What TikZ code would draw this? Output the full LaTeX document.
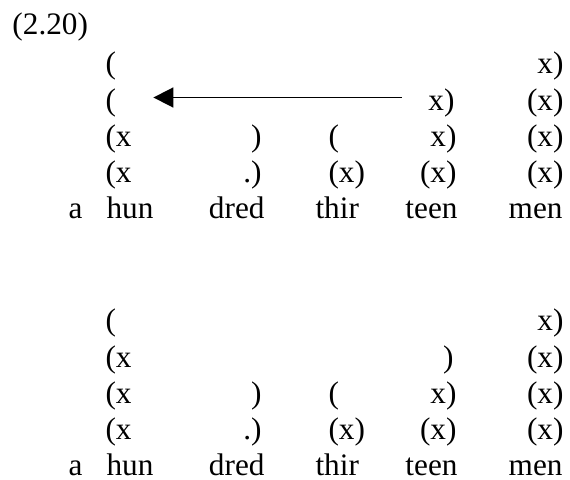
\documentclass[tikz,border=0pt]{standalone}
\usepackage{fontspec}
\setmainfont{Liberation Serif}
\usepackage{tikz}
\usetikzlibrary{arrows.meta, calc}

\begin{document}
\begin{tikzpicture}[x=0.4pt, y=-0.4pt,
    brk/.style={inner sep=0pt, font=\fontsize{12.5}{14}\selectfont},
    brkL/.style={brk, anchor=base west},
    brkR/.style={brk, anchor=base east},
    arr/.style={line width=0.7pt, -{Triangle[length=8pt, width=8pt]}}]
    \useasboundingbox (0,0) rectangle (570,479);
    \node[brkL] (ex) at (12,35) {(2.20)};
    % Grid before the move
    \begin{scope}
        \node[brkL] (a11) at (105,73) {(};
        \node[brkR] (a15) at (564,73) {x)};
        \node[brkL] (a21) at (105,110) {(};
        \node[brkR] (a24) at (455,110) {x)};
        \node[brkR] (a25) at (564,110) {(x)};
        \node[brkL] (a31) at (105,146) {(x};
        \node[brkR] (a32) at (262,146) {)};
        \node[brkL] (a33) at (328,146) {(};
        \node[brkR] (a34) at (457,146) {x)};
        \node[brkR] (a35) at (564,146) {(x)};
        \node[brkL] (a41) at (105,182) {(x};
        \node[brkR] (a42) at (262,182) {.)};
        \node[brkL] (a43) at (328,182) {(x)};
        \node[brkR] (a44) at (457,182) {(x)};
        \node[brkR] (a45) at (564,182) {(x)};
        \node[brkL] (aw1) at (68,218) {a};
        \node[brkL] (aw2) at (106,218) {hun};
        \node[brkR] (aw3) at (265,218) {dred};
        \node[brkL] (aw4) at (315,218) {thir};
        \node[brkR] (aw5) at (458,218) {teen};
        \node[brkR] (aw6) at (563,218) {men};
        \draw[arr] ($(a24.base west)+(-26,-12.5)$) -- ($(a21.base east)+(37,-12.5)$);
    \end{scope}
    % Grid after the move
    \begin{scope}[shift={(0,257)}]
        \node[brkL] (b11) at (105,73) {(};
        \node[brkR] (b15) at (564,73) {x)};
        \node[brkL] (b21) at (105,110) {(x};
        \node[brkR] (b24) at (454,110) {)};
        \node[brkR] (b25) at (564,110) {(x)};
        \node[brkL] (b31) at (105,146) {(x};
        \node[brkR] (b32) at (262,146) {)};
        \node[brkL] (b33) at (328,146) {(};
        \node[brkR] (b34) at (457,146) {x)};
        \node[brkR] (b35) at (564,146) {(x)};
        \node[brkL] (b41) at (105,182) {(x};
        \node[brkR] (b42) at (262,182) {.)};
        \node[brkL] (b43) at (328,182) {(x)};
        \node[brkR] (b44) at (457,182) {(x)};
        \node[brkR] (b45) at (564,182) {(x)};
        \node[brkL] (bw1) at (68,218) {a};
        \node[brkL] (bw2) at (106,218) {hun};
        \node[brkR] (bw3) at (265,218) {dred};
        \node[brkL] (bw4) at (315,218) {thir};
        \node[brkR] (bw5) at (458,218) {teen};
        \node[brkR] (bw6) at (563,218) {men};
    \end{scope}
\end{tikzpicture}
\end{document}
